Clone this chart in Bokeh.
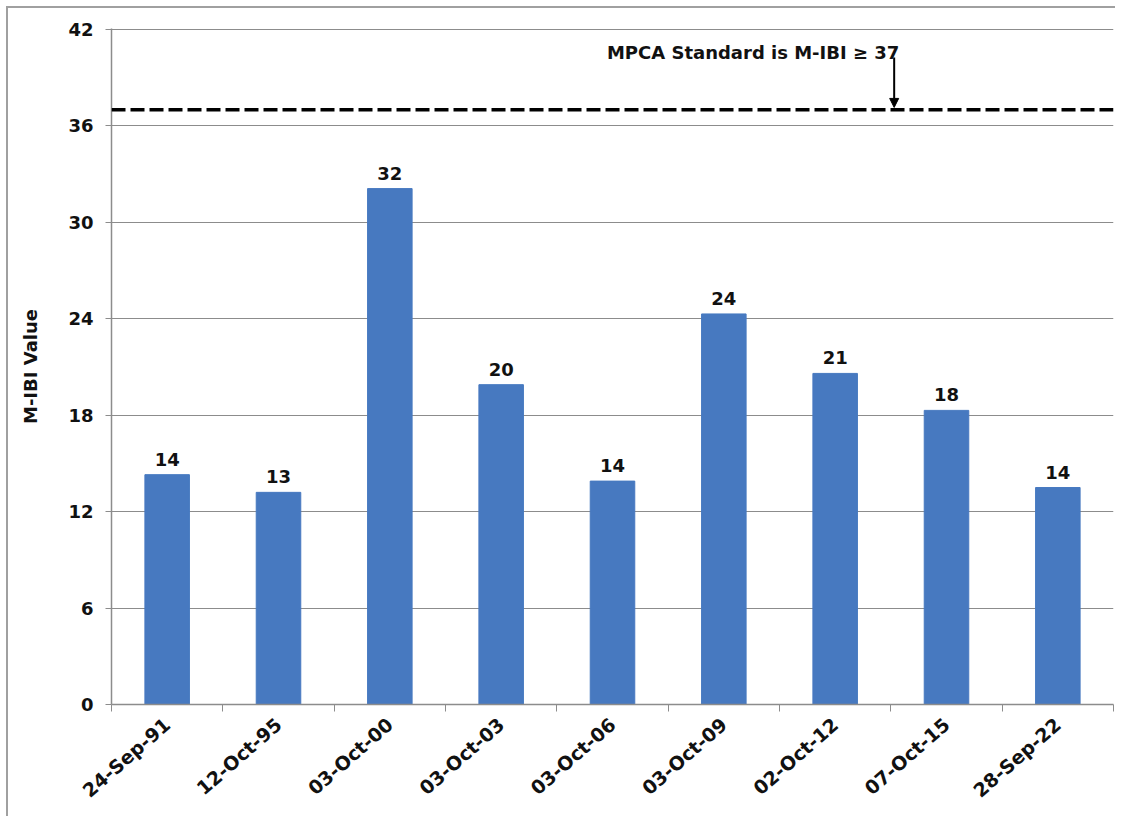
from bokeh.plotting import figure
from bokeh.layouts import column
from bokeh.models import (Range1d, LinearAxis, FixedTicker, Span, Label, Arrow,
                          NormalHead, ColumnDataSource)
from bokeh.core.properties import value
from bokeh.embed import file_html
from bokeh.resources import INLINE

# ---- data ----
dates = ["24-Sep-91", "12-Oct-95", "03-Oct-00", "03-Oct-03", "03-Oct-06",
         "03-Oct-09", "02-Oct-12", "07-Oct-15", "28-Sep-22"]
mibi = [14.3, 13.2, 32.1, 19.9, 13.9, 24.3, 20.6, 18.3, 13.5]
bar_labels = ["14", "13", "32", "20", "14", "24", "21", "18", "14"]
y_ticks = [0, 6, 12, 18, 24, 30, 36, 42]
standard = 37
standard_text = "MPCA Standard is M-IBI \u2265 37"

FONT = "DejaVu Sans"
BAR = "#4779C0"
GRID = "#8c8c8c"

n = len(dates)
# each category occupies 2 x-units: centres at odd integers, boundaries at even
centers = [2 * i + 1 for i in range(n)]
bounds = [2 * i for i in range(n + 1)]

src = ColumnDataSource(dict(x=centers, top=mibi, lab=bar_labels))

p = figure(width=1107, height=808, x_range=Range1d(0, 2 * n),
           y_range=Range1d(0, 42.06), output_backend="svg", toolbar_location=None,
           x_axis_location=None, y_axis_location="left",
           min_border_left=103, min_border_right=2, min_border_top=20,
           min_border_bottom=112)
p.outline_line_color = None
p.background_fill_color = "white"
p.border_fill_color = "white"

# y axis
yax = p.yaxis[0]
yax.ticker = FixedTicker(ticks=y_ticks)
yax.major_tick_out = 6
yax.major_tick_in = 0
yax.minor_tick_line_color = None
yax.axis_line_color = GRID
yax.axis_line_width = 1.5
yax.major_tick_line_color = GRID
yax.major_label_standoff = 12
yax.major_label_text_font = FONT
yax.major_label_text_font_style = "bold"
yax.major_label_text_font_size = "18px"
yax.major_label_text_color = "#111111"
yax.axis_label = "M-IBI Value"
yax.axis_label_text_font = FONT
yax.axis_label_text_font_style = "bold"
yax.axis_label_text_font_size = "18px"
yax.axis_label_text_color = "#111111"
yax.axis_label_standoff = 24

p.ygrid.ticker = FixedTicker(ticks=y_ticks)
p.ygrid.grid_line_color = GRID
p.ygrid.grid_line_width = 1.2
p.xgrid.grid_line_color = None

# x axis: boundary ticks (no labels)
bax = LinearAxis(ticker=FixedTicker(ticks=bounds),
                 major_label_overrides={b: "" for b in bounds},
                 major_label_text_font_size="1px", major_label_standoff=0,
                 major_tick_out=7, major_tick_in=0, minor_tick_line_color=None,
                 axis_line_color=GRID, axis_line_width=1.5,
                 major_tick_line_color=GRID)
p.add_layout(bax, "below")

# x axis: category labels (no line / ticks)
cax = LinearAxis(ticker=FixedTicker(ticks=centers),
                 major_label_overrides={c: d for c, d in zip(centers, dates)},
                 axis_line_color=None, major_tick_line_color=None,
                 minor_tick_line_color=None, major_tick_out=0, major_tick_in=0,
                 major_label_orientation=0.72, major_label_standoff=10,
                 major_label_text_font=FONT, major_label_text_font_style="bold",
                 major_label_text_font_size="19px",
                 major_label_text_color="#111111")
p.add_layout(cax, "below")

# bars
p.vbar(x="x", top="top", width=0.8, source=src, fill_color=BAR, line_color=BAR)
p.text(x="x", y="top", text="lab", source=src, text_align="center",
       text_baseline="bottom", y_offset=-9, text_font=value(FONT),
       text_font_style="bold", text_font_size="18px", text_color="#111111")

# standard line and annotation
p.add_layout(Span(location=standard, dimension="width", line_color="black",
                  line_width=3.5, line_dash="14 5"))
p.add_layout(Label(x=8.9, y=40.55, text=standard_text, text_font=FONT,
                   text_font_style="bold", text_font_size="18px",
                   text_color="#111111", text_baseline="alphabetic"))
p.add_layout(Arrow(end=NormalHead(size=9, fill_color="black", line_color="black"),
                   x_start=14.06, y_start=40.25, x_end=14.06, y_end=37.15,
                   line_width=2, line_color="black"))

root = column(p, margin=(6, 0, 0, 6),
              styles={"border-left": "2px solid #a0a0a0",
                      "border-top": "2px solid #a0a0a0"})

open("out.html", "w").write(file_html(root, INLINE))
